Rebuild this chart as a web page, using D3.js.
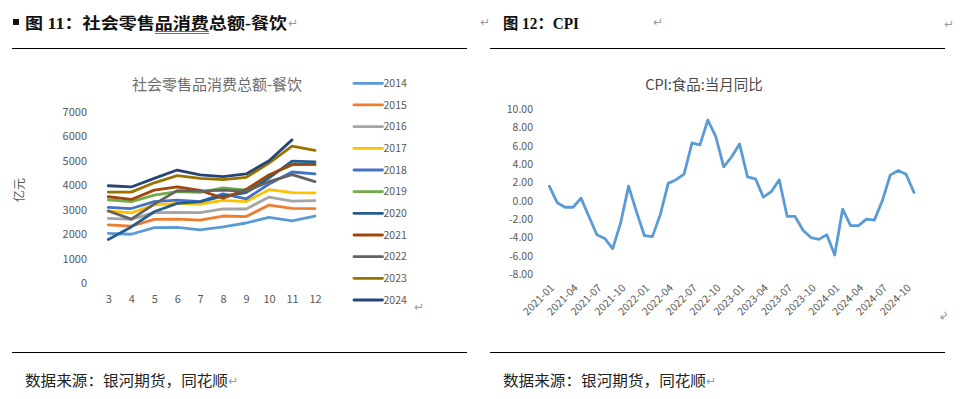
<!DOCTYPE html>
<html><head><meta charset="utf-8">
<script src="https://cdn.jsdelivr.net/npm/d3@7"></script>
<style>body{margin:0;background:#fff}svg{display:block}</style>
</head><body>
<script>
// ---------- data: left chart (社会零售品消费总额-餐饮, 亿元) ----------
const months = [3, 4, 5, 6, 7, 8, 9, 10, 11, 12];
const years = ["2014","2015","2016","2017","2018","2019","2020","2021","2022","2023","2024"];
const v2014 = [2040, 2000, 2270, 2280, 2180, 2300, 2460, 2690, 2550, 2745];
const v2015 = [2380, 2330, 2610, 2620, 2580, 2745, 2720, 3190, 3060, 3050];
const v2016 = [2650, 2610, 2880, 2895, 2880, 3040, 3030, 3520, 3350, 3370];
const v2017 = [2950, 2870, 3200, 3260, 3235, 3380, 3330, 3820, 3700, 3690];
const v2018 = [3100, 3050, 3330, 3390, 3330, 3650, 3440, 4050, 4540, 4460];
const v2019 = [3400, 3330, 3600, 3740, 3710, 3890, 3800, 4420, 4830, 4850];
const v2020 = [1790, 2300, 2920, 3260, 3330, 3560, 3700, 4300, 4980, 4950];
const v2021 = [3530, 3420, 3800, 3930, 3790, 3470, 3830, 4420, 4850, 4850];
const v2022 = [2950, 2620, 3230, 3780, 3760, 3800, 3750, 4150, 4430, 4150];
const v2023 = [3720, 3720, 4100, 4390, 4280, 4230, 4320, 4900, 5600, 5420];
const v2024 = [3980, 3930, 4280, 4620, 4420, 4350, 4460, 5000, 5850];
const leftSeries = [v2014, v2015, v2016, v2017, v2018, v2019, v2020, v2021, v2022, v2023, v2024];
const leftColors = ["#5B9BD5","#ED7D31","#A5A5A5","#FFC000","#4472C4","#70AD47","#255E91","#9E480E","#636363","#997300","#264478"];
const leftYTicks = [0, 1000, 2000, 3000, 4000, 5000, 6000, 7000];

// ---------- data: right chart (CPI:食品:当月同比, %) ----------
const cpiDates = [
 "2021-01","2021-02","2021-03","2021-04","2021-05","2021-06","2021-07","2021-08","2021-09","2021-10","2021-11","2021-12",
 "2022-01","2022-02","2022-03","2022-04","2022-05","2022-06","2022-07","2022-08","2022-09","2022-10","2022-11","2022-12",
 "2023-01","2023-02","2023-03","2023-04","2023-05","2023-06","2023-07","2023-08","2023-09","2023-10","2023-11","2023-12",
 "2024-01","2024-02","2024-03","2024-04","2024-05","2024-06","2024-07","2024-08","2024-09","2024-10","2024-11"];
const cpiValues = [
 1.6, -0.2, -0.7, -0.7, 0.3, -1.7, -3.7, -4.1, -5.2, -2.4, 1.6, -1.2,
 -3.8, -3.9, -1.5, 1.9, 2.3, 2.9, 6.3, 6.1, 8.8, 7.0, 3.7, 4.8,
 6.2, 2.6, 2.4, 0.4, 1.0, 2.3, -1.7, -1.7, -3.2, -4.0, -4.2, -3.7,
 -5.9, -0.9, -2.7, -2.7, -2.0, -2.1, 0.0, 2.8, 3.3, 2.9, 0.9];
const cpiTickLabels = ["2021-01","2021-04","2021-07","2021-10","2022-01","2022-04","2022-07","2022-10",
 "2023-01","2023-04","2023-07","2023-10","2024-01","2024-04","2024-07","2024-10"];
const cpiYTicks = [-8, -6, -4, -2, 0, 2, 4, 6, 8, 10];

const W = 975, H = 399;
const svg = d3.select("body").append("svg").attr("width", W).attr("height", H)
  .style("font-family", "'Noto Sans CJK SC', sans-serif");

const gray = "#595959";
const headFont = "'Liberation Serif','Noto Sans CJK SC',serif";
const mark = "#9a9a9a";

// ---------- headers ----------
svg.append("rect").attr("x", 13).attr("y", 19).attr("width", 6).attr("height", 6).attr("fill", "#111");
svg.append("text").attr("x", 25).attr("y", 29).attr("font-family", headFont).attr("font-weight", 700)
  .attr("font-size", 16).attr("fill", "#111").attr("textLength", 262).attr("lengthAdjust", "spacingAndGlyphs")
  .text("图 11：社会零售品消费总额-餐饮");
svg.append("line").attr("x1", 155).attr("x2", 209).attr("y1", 31.5).attr("y2", 31.5).attr("stroke", "#4a6fc4").attr("stroke-width", 1);
svg.append("line").attr("x1", 155).attr("x2", 209).attr("y1", 33.5).attr("y2", 33.5).attr("stroke", "#4a6fc4").attr("stroke-width", 1);
svg.append("text").attr("x", 503).attr("y", 29).attr("font-family", headFont).attr("font-weight", 700)
  .attr("font-size", 16).attr("fill", "#111").attr("textLength", 76).attr("lengthAdjust", "spacingAndGlyphs")
  .text("图 12：CPI");
[[288, 27], [480, 26], [653, 26], [944, 28]].forEach(([x, y]) =>
  svg.append("text").attr("x", x).attr("y", y).attr("font-size", 12).attr("fill", mark).attr("font-family", "DejaVu Sans").text("↵"));

svg.append("line").attr("x1", 12).attr("x2", 467).attr("y1", 48.5).attr("y2", 48.5).attr("stroke", "#000").attr("stroke-width", 1.2);
svg.append("line").attr("x1", 490).attr("x2", 945).attr("y1", 48.5).attr("y2", 48.5).attr("stroke", "#000").attr("stroke-width", 1.2);
svg.append("line").attr("x1", 12).attr("x2", 467).attr("y1", 352.5).attr("y2", 352.5).attr("stroke", "#000").attr("stroke-width", 1.2);
svg.append("line").attr("x1", 490).attr("x2", 945).attr("y1", 352.5).attr("y2", 352.5).attr("stroke", "#000").attr("stroke-width", 1.2);

// ---------- footers ----------
[[25, 228], [503, 706]].forEach(([x, xm]) => {
  svg.append("text").attr("x", x).attr("y", 386).attr("font-family", headFont)
    .attr("font-size", 15).attr("fill", "#222").attr("textLength", 203).attr("lengthAdjust", "spacingAndGlyphs")
    .text("数据来源：银河期货，同花顺");
  svg.append("text").attr("x", xm).attr("y", 385).attr("font-size", 12).attr("fill", mark).attr("font-family", "DejaVu Sans").text("↵");
});

// ---------- left chart ----------
const xL = d3.scaleLinear().domain([3, 12]).range([108.3, 315]);
const yL = d3.scaleLinear().domain([0, 7000]).range([283.3, 111.7]);

svg.append("text").attr("x", 217).attr("y", 90).attr("text-anchor", "middle")
  .attr("font-size", 15).attr("fill", "#6b6b6b").text("社会零售品消费总额-餐饮");

const gyL = svg.append("g").attr("transform", "translate(87,0)")
  .call(d3.axisLeft(yL).tickValues(leftYTicks).tickSize(0).tickPadding(0).tickFormat(d3.format("d")));
gyL.select(".domain").remove();
gyL.selectAll("text").attr("font-size", 11).attr("fill", gray).attr("font-family", "'Noto Sans CJK SC', sans-serif");

const gxL = svg.append("g").attr("transform", "translate(0,295)")
  .call(d3.axisBottom(xL).tickValues(months).tickSize(0).tickPadding(0).tickFormat(d3.format("d")));
gxL.select(".domain").remove();
gxL.selectAll("text").attr("font-size", 11).attr("fill", gray).attr("font-family", "'Noto Sans CJK SC', sans-serif");

svg.append("text").attr("transform", "translate(24,190) rotate(-90)").attr("text-anchor", "middle")
  .attr("font-size", 12).attr("fill", gray).text("亿元");

const lineL = d3.line().x((d, i) => xL(months[i])).y(d => yL(d));
leftSeries.forEach((s, i) => {
  svg.append("path").attr("d", lineL(s)).attr("fill", "none").attr("stroke", leftColors[i])
    .attr("stroke-width", 2.8).attr("stroke-linejoin", "round").attr("stroke-linecap", "round");
});

// legend
const yLeg = d3.scalePoint().domain(years).range([83.3, 300]);
const leg = svg.append("g");
years.forEach((yr, i) => {
  leg.append("line").attr("x1", 354).attr("x2", 382.5).attr("y1", yLeg(yr)).attr("y2", yLeg(yr))
    .attr("stroke", leftColors[i]).attr("stroke-width", 2.8).attr("stroke-linecap", "round");
  leg.append("text").attr("x", 383.5).attr("y", yLeg(yr)).attr("dy", "0.35em")
    .attr("font-size", 10.5).attr("fill", gray).text(yr);
});
svg.append("text").attr("x", 414).attr("y", 311).attr("font-size", 12).attr("fill", mark).attr("font-family", "DejaVu Sans").text("↵");

// ---------- right chart ----------
const xR = d3.scalePoint().domain(cpiDates).range([549.3, 914]);
const yR = d3.scaleLinear().domain([-8, 10]).range([274.3, 109]);

svg.append("text").attr("x", 704).attr("y", 90).attr("text-anchor", "middle")
  .attr("font-size", 14.5).attr("fill", "#4a4a4a").text("CPI:食品:当月同比");

const gyR = svg.append("g").attr("transform", "translate(533,0)")
  .call(d3.axisLeft(yR).tickValues(cpiYTicks).tickSize(0).tickPadding(0).tickFormat(d => d.toFixed(2)));
gyR.select(".domain").remove();
gyR.selectAll("text").attr("font-size", 10.5).attr("fill", gray).attr("font-family", "'Noto Sans CJK SC', sans-serif");

const gxR = svg.append("g").attr("transform", "translate(0,0)")
  .call(d3.axisBottom(xR).tickValues(cpiTickLabels).tickSize(0).tickPadding(0));
gxR.select(".domain").remove();
gxR.selectAll(".tick").attr("transform", d => `translate(${xR(d) + 3},286)`);
gxR.selectAll("text").attr("font-size", 10.5).attr("fill", gray).attr("font-family", "'Noto Sans CJK SC', sans-serif")
  .attr("text-anchor", "end").attr("y", 0).attr("dy", "0.35em").attr("transform", "rotate(-45)");

const lineR = d3.line().x((d, i) => xR(cpiDates[i])).y(d => yR(d));
svg.append("path").attr("d", lineR(cpiValues)).attr("fill", "none").attr("stroke", "#5B9BD5")
  .attr("stroke-width", 2.8).attr("stroke-linejoin", "round").attr("stroke-linecap", "round");

svg.append("text").attr("transform", "translate(942,322) rotate(-30)").attr("font-size", 12)
  .attr("fill", mark).attr("font-family", "DejaVu Sans").text("↵");
</script>
</body></html>
